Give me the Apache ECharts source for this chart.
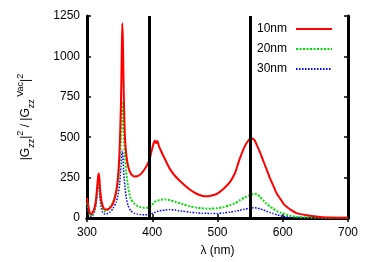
<!DOCTYPE html>
<html>
<head>
<meta charset="utf-8">
<script src="https://cdn.jsdelivr.net/npm/echarts@6/dist/echarts.min.js"></script>
<style>
html,body{margin:0;padding:0;background:#fff;}
#chart{width:374px;height:262px;}
</style>
</head>
<body>
<div id="chart"></div>
<script>
// wavelength grid (nm)
var wavelength = [300,302,304,306,308,310,312,314,316,317,318,319,320,322,324,327,330,335,340,345,348,350,352,353,354,355,356,357,358,360,363,367,372,377,382,388,393,396,399,402,404,406,408,410,414,420,427,435,447,458,468,476,483,490,499,509,519,527,534,542,549,553,557,561,565,570,575,580,585,591,596,601,606,611,621,637,662,700];
var seriesNames = ['10nm', '20nm', '30nm'];
var g10 = [125,75,35,25,30,45,70,120,210,255,275,245,180,110,75,52,52,62,90,170,280,430,700,950,1205,1100,850,650,520,400,320,275,257,258,270,300,335,365,415,462,480,462,476,448,410,360,304,260,212,175,150,138,134,138,150,180,222,280,366,445,488,492,480,445,407,355,304,250,205,150,120,89,69,54,30,17,5,2];
var g20 = [95,50,22,15,20,35,60,110,190,230,250,220,160,90,55,40,45,65,100,160,240,330,500,620,718,650,540,460,400,290,190,120,90,75,68,63,63,68,80,92,100,104,107,110,113,115,110,100,85,72,64,60,58,58,60,67,79,92,109,128,140,147,150,145,132,110,89,72,58,42,33,28,20,14,7,4,2,1];
var g30 = [85,45,18,10,14,25,45,90,160,195,212,180,120,60,35,25,25,35,60,100,150,210,320,380,415,380,300,240,200,130,75,45,30,24,21,20,20,22,27,32,35,38,41,43,46,49,52,49,42,36,32,30,29,28,28,31,36,42,48,55,60,62,63,62,57,50,42,35,28,20,14,10,7,5,3,2,1,0.5];
var markerWavelengths = [395, 550];
var xTicks = [300, 400, 500, 600, 700];
var yTicks = [0, 250, 500, 750, 1000, 1250];

function pairs(v){ return wavelength.map(function(w,i){ return [w, v[i]]; }); }

var FONT = '"Liberation Sans", Arial, Helvetica, sans-serif';
var chart = echarts.init(document.getElementById('chart'), null, {renderer:'canvas'});

var baseAxis = {
  axisLine: {show: true, lineStyle: {color: '#000', width: 3}},
  axisTick: {show: true, inside: true, length: 4, lineStyle: {color: '#000', width: 1.5}},
  splitLine: {show: false}
};

var option = {
  animation: false,
  backgroundColor: '#fff',
  grid: {left: 87, right: 26, top: 16, bottom: 42, containLabel: false},
  legend: {
    orient: 'vertical', left: 257, top: 22, align: 'right',
    itemWidth: 36, itemHeight: 14, itemGap: 6, padding: 0,
    itemStyle: {opacity: 0},
    textStyle: {fontFamily: FONT, fontSize: 12, color: '#000', lineHeight: 14, padding: [0, 4, 0, 0]},
    data: seriesNames
  },
  xAxis: [
    Object.assign({}, baseAxis, {
      type: 'value', min: xTicks[0], max: xTicks[xTicks.length-1], interval: 100, position: 'bottom',
      name: 'λ (nm)', nameLocation: 'middle', nameGap: 27,
      nameTextStyle: {fontFamily: FONT, fontSize: 12, color: '#000'},
      axisLabel: {fontFamily: FONT, fontSize: 12, color: '#000', margin: 9, formatter: function(v){ return String(v); }}
    }),
    Object.assign({}, baseAxis, {
      type: 'value', min: xTicks[0], max: xTicks[xTicks.length-1], interval: 100, position: 'top',
      axisLabel: {show: false}
    })
  ],
  yAxis: [
    Object.assign({}, baseAxis, {
      type: 'value', min: yTicks[0], max: yTicks[yTicks.length-1], interval: 250, position: 'left',
      name: '{b||G}{sub|zz}{b||}{sup|2}{b| / |G}{sub|zz}{sup| Vac}{b||}{sup|2}',
      nameLocation: 'middle', nameGap: 50, nameRotate: 90,
      nameTextStyle: {
        fontFamily: FONT, fontSize: 12, color: '#000',
        rich: {
          b: {fontFamily: FONT, fontSize: 12, color: '#000', lineHeight: 22, verticalAlign: 'middle'},
          sub: {fontFamily: FONT, fontSize: 9, color: '#000', lineHeight: 22, verticalAlign: 'bottom', padding: [0,0,1,0]},
          sup: {fontFamily: FONT, fontSize: 9, color: '#000', lineHeight: 22, verticalAlign: 'top', padding: [1,0,0,0]}
        }
      },
      axisLabel: {fontFamily: FONT, fontSize: 12, color: '#000', margin: 7, formatter: function(v){ return String(v); }}
    }),
    Object.assign({}, baseAxis, {
      type: 'value', min: yTicks[0], max: yTicks[yTicks.length-1], interval: 250, position: 'right',
      axisLabel: {show: false}
    })
  ],
  series: [
    {name: seriesNames[0], type: 'line', data: pairs(g10), symbol: 'none', smooth: 0.2,
     lineStyle: {color: '#ff0000', width: 2}, itemStyle: {color: '#ff0000'}, z: 3},
    {name: seriesNames[1], type: 'line', data: pairs(g20), symbol: 'none', smooth: 0.2,
     lineStyle: {color: '#00e000', width: 2, type: [2, 1.5]}, itemStyle: {color: '#00e000'}, z: 2},
    {name: seriesNames[2], type: 'line', data: pairs(g30), symbol: 'none', smooth: 0.2,
     lineStyle: {color: '#0000ff', width: 1.5, type: [1.5, 1.5]}, itemStyle: {color: '#0000ff'}, z: 1},
    {name: 'markers', type: 'line', data: [], symbol: 'none', z: 5,
     markLine: {silent: true, symbol: ['none','none'], label: {show: false},
       lineStyle: {color: '#000', width: 3, type: 'solid'},
       data: markerWavelengths.map(function(w){ return {xAxis: w}; })}}
  ]
};
chart.setOption(option);
</script>
</body>
</html>
